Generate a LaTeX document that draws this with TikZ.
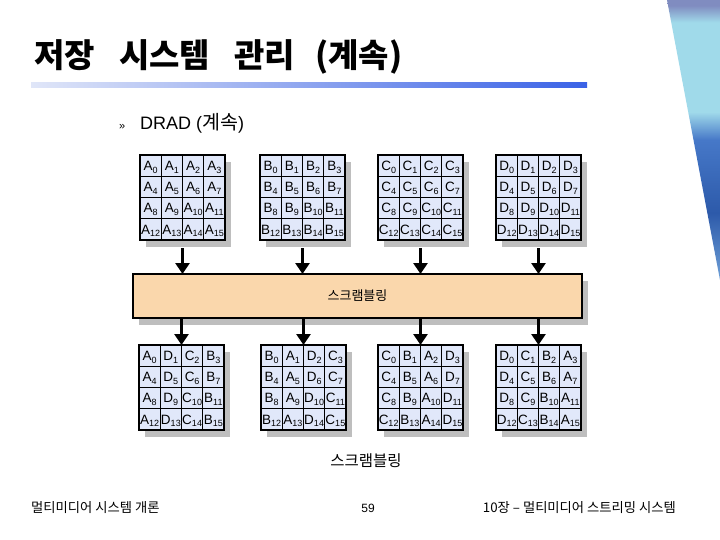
\documentclass[tikz,border=0pt]{standalone}
\usepackage{fontspec}
\setmainfont{Liberation Sans}
\newfontfamily\kr{Noto Sans CJK KR}
\usetikzlibrary{arrows.meta,calc,shadows}
\definecolor{cellfill}{RGB}{225,232,250}
\definecolor{peach}{RGB}{250,215,172}
\definecolor{shadowgray}{RGB}{190,190,190}
\definecolor{barblue}{RGB}{58,98,230}
\definecolor{barpale}{RGB}{224,230,248}
\definecolor{decotop}{RGB}{128,140,192}
\definecolor{decocyan}{RGB}{160,218,234}
\definecolor{decoblue}{RGB}{70,120,200}
\definecolor{decodark}{RGB}{45,90,170}
\definecolor{decolow}{RGB}{110,160,215}

\pgfdeclareverticalshading{decoshade}{100bp}{%
  color(0bp)=(decolow); color(25bp)=(decolow); color(37bp)=(decodark);
  color(50bp)=(decoblue); color(55bp)=(decocyan); color(71bp)=(decocyan);
  color(74bp)=(decotop); color(100bp)=(decotop)}

\newcommand\cellname[2]{#1\raisebox{-2.8pt}{\fontsize{9}{10}\selectfont #2}}
\newcommand\letterof[1]{\ifcase#1 A\or B\or C\or D\fi}

\tikzset{
  gshadow/.style={general shadow={shadow xshift=6pt, shadow yshift=-7pt, fill=shadowgray}},
  gridbox/.style={fill=cellfill, minimum width=85pt, minimum height=85pt, inner sep=0pt, outer sep=0pt, anchor=north west, gshadow},
  cellline/.style={draw=black, line width=0.8pt},
  gridborder/.style={draw=black, line width=1.3pt},
  celltext/.style={font=\fontsize{13.5}{15}\selectfont, inner sep=0pt, anchor=base},
  bigarrow/.style={line width=3pt, -{Triangle[width=14pt,length=11pt]}},
  scramblebox/.style={draw=black, line width=1.2pt, fill=peach, minimum width=449pt, minimum height=44pt, inner sep=0pt, outer sep=0pt, anchor=north west, gshadow},
  titleword/.style={anchor=base west, inner sep=0pt, font=\kr\bfseries\fontsize{33}{38}\selectfont},
}

\begin{document}
\begin{tikzpicture}[x=1pt,y=-1pt]
  \useasboundingbox (0,0) rectangle (720,540);
  \fill[white] (0,0) rectangle (720,540);

  % decorative band at top right
  \shade[shading=decoshade] (667,0) -- (720,0) -- (720,280) -- cycle;

  % title
  \node[titleword] (title1) at (34,68) {저장};
  \node[titleword] (title2) at (119,68) {시스템};
  \node[titleword] (title3) at (234,68) {관리};
  \node[titleword] (title4) at (315,68) {(계속)};
  \shade[left color=barpale, right color=barblue] (31,83) rectangle (587,88);

  % bullet
  \node[anchor=base west, inner sep=0pt, font=\fontsize{11}{12}\selectfont] (bul) at (119,130) {»};
  \node[anchor=base west, inner sep=0pt, font=\fontsize{18}{20}\selectfont] (drad) at (140,130) {DRAD ({\kr\fontsize{19.5}{21}\selectfont 계속})};

  % scrambling box
  \node[scramblebox] (box) at (133,274) {};
  \node[font=\kr\fontsize{13}{15}\selectfont, inner sep=0pt] (boxlabel) at (box.center) {스크램블링};

  % top grids
  \foreach \k/\x in {0/140,1/260,2/378,3/496}{
    \node[gridbox] (t\k) at (\x,155) {};
    \foreach \i in {1,2,3}{
      \draw[cellline] ($(t\k.north west)!\i/4!(t\k.north east)$) -- ($(t\k.south west)!\i/4!(t\k.south east)$);
      \draw[cellline] ($(t\k.north west)!\i/4!(t\k.south west)$) -- ($(t\k.north east)!\i/4!(t\k.south east)$);
    }
    \draw[gridborder] (t\k.north west) rectangle (t\k.south east);
    \foreach \r in {0,...,3}{
      \foreach \c in {0,...,3}{
        \pgfmathtruncatemacro\n{4*\r+\c}
        \node[celltext] (tc\k\r\c) at ($(t\k.north west)+({(\c+0.5)*21.25},{(\r+0.5)*21.25+4.8})$) {\cellname{\letterof{\k}}{\n}};
      }
    }
    \draw[bigarrow] ($(t\k.south)+(0,8)$) -- (t\k.south |- box.north);
  }

  % bottom grids
  \foreach \k/\x in {0/139,1/261,2/378,3/496}{
    \node[gridbox] (b\k) at (\x,345) {};
    \foreach \i in {1,2,3}{
      \draw[cellline] ($(b\k.north west)!\i/4!(b\k.north east)$) -- ($(b\k.south west)!\i/4!(b\k.south east)$);
      \draw[cellline] ($(b\k.north west)!\i/4!(b\k.south west)$) -- ($(b\k.north east)!\i/4!(b\k.south east)$);
    }
    \draw[gridborder] (b\k.north west) rectangle (b\k.south east);
    \foreach \r in {0,...,3}{
      \foreach \c in {0,...,3}{
        \pgfmathtruncatemacro\n{4*\r+\c}
        \pgfmathtruncatemacro\L{mod(\k-\c+4,4)}
        \node[celltext] (bc\k\r\c) at ($(b\k.north west)+({(\c+0.5)*21.25},{(\r+0.5)*21.25+4.8})$) {\cellname{\letterof{\L}}{\n}};
      }
    }
    \draw[bigarrow] (b\k.north |- box.south) -- (b\k.north);
  }

  % caption
  \node[font=\kr\fontsize{15.5}{17}\selectfont, inner sep=0pt] (caption) at (366,461) {스크램블링};

  % footer
  \node[anchor=west, inner sep=0pt, font=\kr\fontsize{13.3}{15}\selectfont] (footl) at (31,508) {멀티미디어 시스템 개론};
  \node[inner sep=0pt, font=\fontsize{12}{13}\selectfont] (footc) at (368,508) {59};
  \node[anchor=east, inner sep=0pt, font=\kr\fontsize{13.3}{15}\selectfont] (footr) at (676,508) {10장 – 멀티미디어 스트리밍 시스템};
\end{tikzpicture}
\end{document}
